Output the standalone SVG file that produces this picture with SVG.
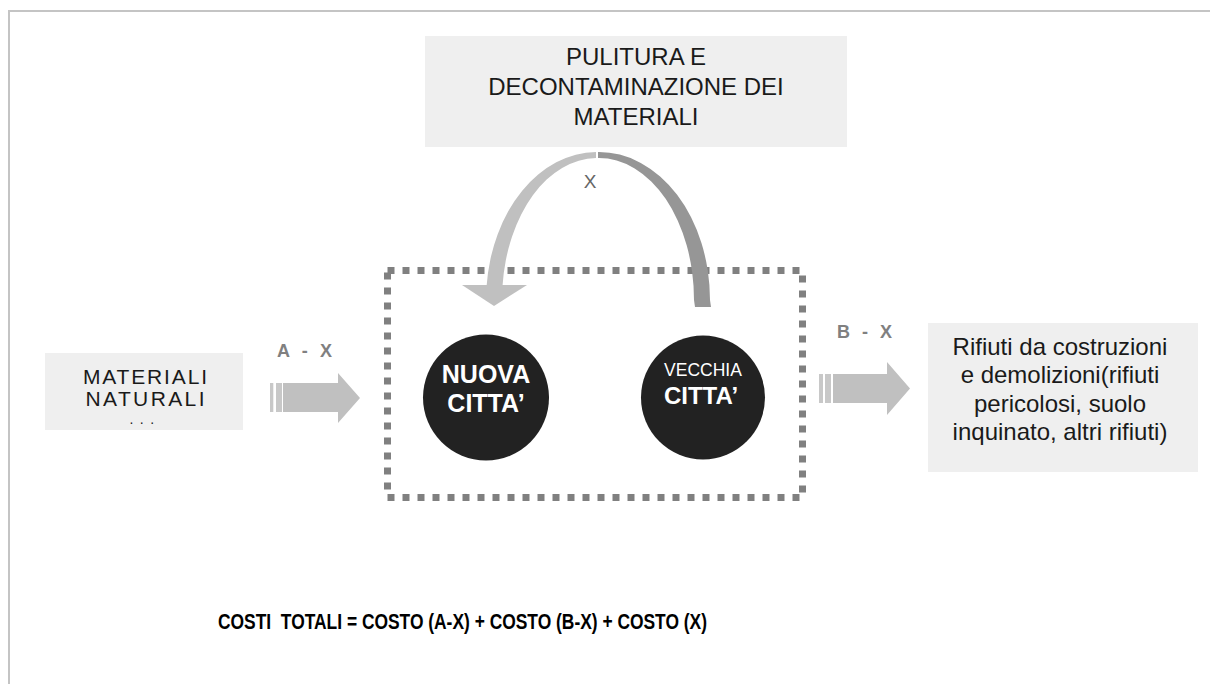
<svg xmlns="http://www.w3.org/2000/svg" width="1210" height="684" viewBox="0 0 1210 684">
<style>
.box{fill:#efefef}
.t{font-family:"Liberation Sans",Arial,sans-serif;fill:#1a1a1a;text-anchor:middle}
.lbl{font-family:"Liberation Sans",Arial,sans-serif;font-weight:bold;fill:#808080}
.city{fill:#222222}
.ct{font-family:"Liberation Sans",Arial,sans-serif;fill:#ffffff;text-anchor:middle}
.fat{fill:#c0c0c0}
.stripe{fill:#c8c8c8}
</style>
<rect width="1210" height="684" fill="#ffffff"/>
<path d="M9 684 V11 H1210" fill="none" stroke="#c4c4c4" stroke-width="2"/>

<g id="pulitura">
<rect class="box" x="425" y="36" width="422" height="111"/>
<text class="t" font-size="24" x="636" y="65">PULITURA E</text>
<text class="t" font-size="24" x="636" y="95">DECONTAMINAZIONE DEI</text>
<text class="t" font-size="24" x="636" y="125">MATERIALI</text>
</g>

<g id="materiali">
<rect class="box" x="45" y="353" width="198" height="77"/>
<text class="t" font-size="21" x="145" y="384" textLength="124" lengthAdjust="spacing">MATERIALI</text>
<text class="t" font-size="21" x="145" y="406" textLength="119" lengthAdjust="spacing">NATURALI</text>
<text class="t" font-size="14" x="145" y="424" letter-spacing="6.5">...</text>
</g>

<g id="rifiuti">
<rect class="box" x="928" y="323" width="270" height="149"/>
<text class="t" font-size="24" x="1060" y="355">Rifiuti da costruzioni</text>
<text class="t" font-size="24" x="1060" y="383">e demolizioni(rifiuti</text>
<text class="t" font-size="24" x="1060" y="412">pericolosi, suolo</text>
<text class="t" font-size="24" x="1060" y="440">inquinato, altri rifiuti)</text>
</g>

<g id="citta-box">
<rect x="387.5" y="270.5" width="415" height="227" fill="none" stroke="#808080" stroke-width="7" stroke-dasharray="7 8"/>
</g>

<g id="nuova">
<circle class="city" cx="486" cy="397.5" r="63"/>
<text class="ct" font-size="25" font-weight="bold" x="486" y="383">NUOVA</text>
<text class="ct" font-size="25" font-weight="bold" x="486" y="412">CITTA’</text>
</g>

<g id="vecchia">
<circle class="city" cx="703" cy="397.5" r="62"/>
<text class="ct" font-size="17.5" x="703" y="376">VECCHIA</text>
<text class="ct" font-size="24" font-weight="bold" x="701" y="404">CITTA’</text>
</g>

<g id="connectors">
<path d="M486.6 286 A111 148 0 0 1 596 152 L596 158 A95 142 0 0 0 502.5 286 Z" fill="#c0c0c0"/>
<polygon points="462,285 527,285 494,306" fill="#c0c0c0"/>
<path d="M598 152 A111 148 0 0 1 710 300 L711 307 L695 307 L694 300 A95 142 0 0 0 598 158 Z" fill="#969696"/>
<text font-family="'Liberation Sans',Arial,sans-serif" font-size="19" x="590" y="188" text-anchor="middle" fill="#666666">X</text>

<rect class="stripe" x="270" y="383" width="3.3" height="29"/>
<rect class="stripe" x="276" y="383" width="6" height="29"/>
<polygon class="fat" points="283,383 338,383 338,373 360,398 338,423 338,412 283,412"/>
<text class="lbl" font-size="18" x="277" y="357" textLength="55" lengthAdjust="spacing">A - X</text>

<rect class="stripe" x="819" y="374" width="4" height="29"/>
<rect class="stripe" x="825" y="374" width="6" height="29"/>
<polygon class="fat" points="833,374 887,374 887,362 910,388.5 887,415 887,403 833,403"/>
<text class="lbl" font-size="18" x="837" y="338" textLength="55" lengthAdjust="spacing">B - X</text>
</g>

<g id="formula">
<text font-family="'Liberation Sans',Arial,sans-serif" font-weight="bold" font-size="22" fill="#000000" x="218" y="629" textLength="489" lengthAdjust="spacingAndGlyphs" xml:space="preserve">COSTI  TOTALI = COSTO (A-X) + COSTO (B-X) + COSTO (X)</text>
</g>
</svg>
